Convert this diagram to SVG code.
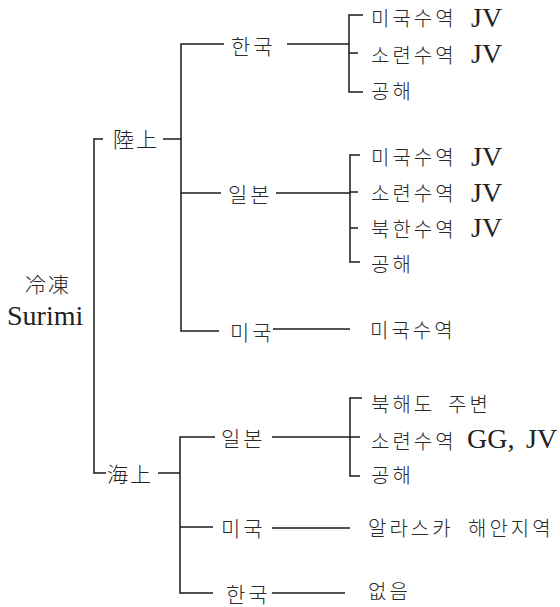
<svg xmlns="http://www.w3.org/2000/svg" width="560" height="607" viewBox="0 0 560 607">
<style>
.k{font-family:"Noto Sans CJK KR","Noto Sans CJK JP",sans-serif;font-size:20px;font-weight:300;fill:#2a2a2a;dominant-baseline:central;letter-spacing:3px}
.t{font-size:21px;letter-spacing:3px}
.c{font-family:"Noto Sans CJK JP","Noto Sans CJK KR",serif;font-size:21px;font-weight:300;fill:#222;dominant-baseline:central;letter-spacing:2px}
.s{font-family:"Liberation Serif",serif;font-size:28px;fill:#222}
.ln{stroke:#1a1a1a;stroke-width:1.5;fill:none}
</style>
<rect width="560" height="607" fill="#fff"/>
<g id="connectors" class="ln">
<path d="M103,139 H94 V473 H106"/>
<path d="M163,139 H181"/>
<path d="M224,44 H181 V331 H219"/>
<path d="M181,193 H221"/>
<path d="M158,473 H180"/>
<path d="M215,437 H180 V593 H213"/>
<path d="M180,527 H213"/>
<path d="M287,44 H349"/>
<path d="M363,15 H349 V92 H363"/>
<path d="M349,53 H358"/>
<path d="M276,193 H350"/>
<path d="M360,155 H350 V262 H360"/>
<path d="M350,192 H358 M350,228 H358"/>
<path d="M273,329 H350"/>
<path d="M272,437 H350"/>
<path d="M362,398 H350 V476 H360"/>
<path d="M350,437 H360"/>
<path d="M272,528 H350"/>
<path d="M272,593 H345"/>
</g>
<g id="root">
<text class="c" x="25" y="283">冷凍</text>
<text class="s" x="7" y="325">Surimi</text>
</g>
<g id="land"><text class="c" x="113" y="138">陸上</text></g>
<g id="sea"><text class="c" x="107" y="473">海上</text></g>
<g id="land-korea"><text class="k t" x="231" y="45">한국</text></g>
<g id="land-japan"><text class="k t" x="228" y="193">일본</text></g>
<g id="land-usa"><text class="k t" x="230" y="331">미국</text></g>
<g id="sea-japan"><text class="k t" x="221" y="437">일본</text></g>
<g id="sea-usa"><text class="k t" x="221" y="527">미국</text></g>
<g id="sea-korea"><text class="k t" x="226" y="593">한국</text></g>
<g id="lk-1"><text class="k" x="371" y="17">미국수역</text><text class="s" x="471" y="27">JV</text></g>
<g id="lk-2"><text class="k" x="371" y="54">소련수역</text><text class="s" x="471" y="63">JV</text></g>
<g id="lk-3"><text class="k" x="371" y="90">공해</text></g>
<g id="lj-1"><text class="k" x="371" y="156">미국수역</text><text class="s" x="471" y="166">JV</text></g>
<g id="lj-2"><text class="k" x="371" y="192">소련수역</text><text class="s" x="471" y="202">JV</text></g>
<g id="lj-3"><text class="k" x="371" y="228">북한수역</text><text class="s" x="471" y="237">JV</text></g>
<g id="lj-4"><text class="k" x="371" y="263">공해</text></g>
<g id="lu-1"><text class="k" x="370" y="329">미국수역</text></g>
<g id="sj-1"><text class="k" x="371" y="403">북해도</text><text class="k" x="448" y="403">주변</text></g>
<g id="sj-2"><text class="k" x="371" y="440">소련수역</text><text class="s" x="467" y="448">GG,</text><text class="s" x="526" y="448">JV</text></g>
<g id="sj-3"><text class="k" x="371" y="474">공해</text></g>
<g id="su-1"><text class="k" x="368" y="527">알라스카</text><text class="k" x="468" y="527">해안지역</text></g>
<g id="sk-1"><text class="k" x="368" y="590">없음</text></g>
</svg>
